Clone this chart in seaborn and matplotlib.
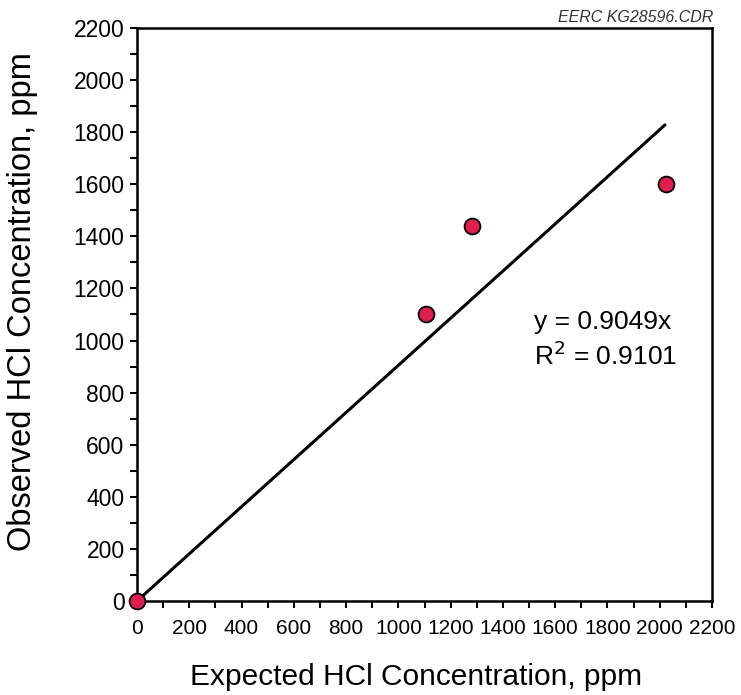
import matplotlib
matplotlib.use("Agg")
import matplotlib.pyplot as plt
from matplotlib.ticker import MultipleLocator
import seaborn as sns
import pandas as pd

expected = [0, 1105, 1282, 2022]
observed = [0, 1100, 1440, 1600]
slope = 0.9049
r2 = 0.9101
fit_x = [0, 2020]
fit_y = [slope * v for v in fit_x]

sns.set_style("ticks")
plt.rcParams['font.family'] = ['Liberation Sans', 'DejaVu Sans']
plt.rcParams['text.color'] = 'black'
plt.rcParams['axes.labelcolor'] = 'black'
plt.rcParams['xtick.color'] = 'black'
plt.rcParams['ytick.color'] = 'black'
plt.rcParams['axes.edgecolor'] = 'black'

fig = plt.figure(figsize=(7.41, 6.95), dpi=100)
ax = fig.add_axes([0.1849, 0.1353, 0.776, 0.8244])

df_pts = pd.DataFrame({"x": expected, "y": observed})
df_fit = pd.DataFrame({"x": fit_x, "y": fit_y})

sns.lineplot(data=df_fit, x="x", y="y", ax=ax, color="black", linewidth=2.2, zorder=2)
sns.scatterplot(data=df_pts, x="x", y="y", ax=ax, color="#E01E4E", edgecolor="black",
                linewidth=1.3, s=130, zorder=3, clip_on=False)

ax.set_xlim(0, 2200)
ax.set_ylim(0, 2200)
ax.xaxis.set_major_locator(MultipleLocator(200))
ax.xaxis.set_minor_locator(MultipleLocator(100))
ax.yaxis.set_major_locator(MultipleLocator(200))
ax.yaxis.set_minor_locator(MultipleLocator(100))
ax.tick_params(which="both", direction="out", width=1.5, length=5)
ax.tick_params(axis="x", labelsize=15, pad=8)
ax.tick_params(axis="y", labelsize=16.5, pad=4)
for s in ax.spines.values():
    s.set_linewidth(1.8)
    s.set_visible(True)

ax.set_xlabel("Expected HCl Concentration, ppm", fontsize=21.5)
ax.set_ylabel("Observed HCl Concentration, ppm", fontsize=23.5)
ax.xaxis.set_label_coords(0.485, -0.108)
ax.yaxis.set_label_coords(-0.172, 0.522)

ax.text(0.690, 0.487, "y = 0.9049x", transform=ax.transAxes, fontsize=19, ha="left", va="center")
ax.text(0.690, 0.428, "R$^2$ = 0.9101", transform=ax.transAxes, fontsize=19, ha="left", va="center")

fig.text(0.962, 0.986, "EERC KG28596.CDR", fontsize=11.5, style="italic", ha="right", va="top", color="#333333")

fig.savefig("out.png", dpi=100)
